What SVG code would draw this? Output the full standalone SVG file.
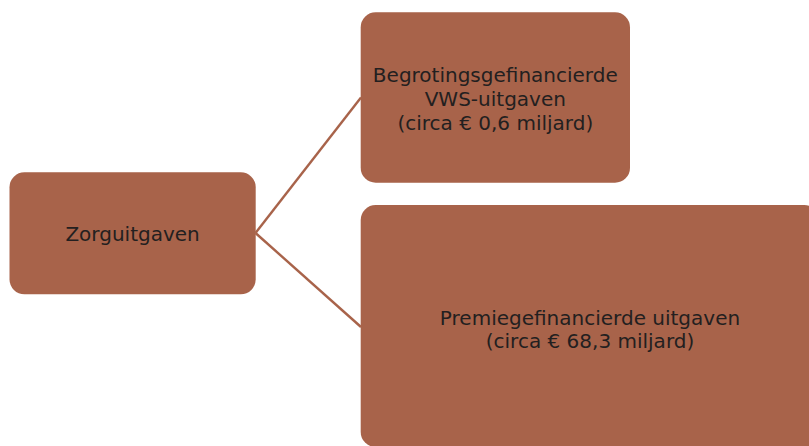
<svg xmlns="http://www.w3.org/2000/svg" width="809" height="446" viewBox="0 0 809 446">
<style>
.box{fill:#A8634A;}
.lbl{font-family:"DejaVu Sans",sans-serif;font-size:20px;fill:#231F20;text-anchor:middle;}
.con{stroke:#A8634A;stroke-width:2.4;fill:none;}
</style>
<rect width="809" height="446" fill="#FFFFFF"/>
<g id="connectors">
<line class="con" x1="255.5" y1="233" x2="361" y2="97.5"/>
<line class="con" x1="255.5" y1="233" x2="361" y2="327"/>
</g>
<g id="node-zorguitgaven">
<rect class="box" x="9.5" y="172.3" width="246.2" height="122" rx="15" ry="15"/>
<text class="lbl" x="132.6" y="241">Zorguitgaven</text>
</g>
<g id="node-begroting">
<rect class="box" x="360.7" y="12.3" width="269.3" height="170.4" rx="15" ry="15"/>
<text class="lbl" x="495.3" y="82">Begrotingsgefinancierde</text>
<text class="lbl" x="495.3" y="106">VWS-uitgaven</text>
<text class="lbl" x="495.3" y="130">(circa € 0,6 miljard)</text>
</g>
<g id="node-premie">
<rect class="box" x="360.7" y="205" width="458.6" height="242" rx="15" ry="15"/>
<text class="lbl" x="590" y="325">Premiegefinancierde uitgaven</text>
<text class="lbl" x="590" y="348">(circa € 68,3 miljard)</text>
</g>
</svg>
